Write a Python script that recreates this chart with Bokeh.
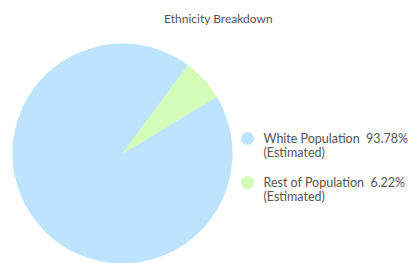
from math import pi
from bokeh.plotting import figure
from bokeh.models import ColumnDataSource
from bokeh.core.properties import value
from bokeh.embed import file_html
from bokeh.resources import INLINE

title = "Ethnicity Breakdown"
categories = ["White Population", "Rest of Population"]
shares = [93.78, 6.22]
colors = ["#bee4fd", "#d2fcb8"]

W, H = 411, 263
p = figure(width=W, height=H, x_range=(0, W), y_range=(0, H),
           output_backend="svg", toolbar_location=None, min_border=0)
p.axis.visible = False
p.grid.visible = False
p.outline_line_color = None
p.background_fill_color = "white"

cx, cy, r = 122, 110, 110
start_deg = 31.0
# green slice counter-clockwise from start_deg; white takes the rest
green_start = start_deg * pi / 180
green_end = green_start + shares[1] / 100 * 2 * pi
starts = [green_end, green_start]
ends = [green_start + 2 * pi, green_end]
src = ColumnDataSource(dict(x=[cx, cx], y=[cy, cy], start=starts, end=ends, color=colors))
p.wedge(x="x", y="y", radius=r, start_angle="start", end_angle="end",
        fill_color="color", line_color=None, source=src)

p.text(x=[218], y=[245], text=[title], text_align="center", text_baseline="middle",
       text_font=value("Lato"), text_font_size="12px", text_color="#555555")

lx, ly0, step = 247, 125, 44
for i, (cat, s) in enumerate(zip(categories, shares)):
    y = ly0 - i * step
    p.scatter(x=[lx], y=[y], size=13, fill_color=colors[i], line_color=None)
    p.text(x=[lx + 16], y=[y], text=[f"{cat}\u00a0\u00a0{s:.2f}%"], text_align="left",
           text_baseline="middle", text_font=value("Lato"), text_font_size="12.5px",
           text_color="#555555")
    p.text(x=[lx + 16], y=[y - 14], text=["(Estimated)"], text_align="left",
           text_baseline="middle", text_font=value("Lato"), text_font_size="12.5px",
           text_color="#555555")

open("out.html", "w").write(file_html(p, INLINE))
